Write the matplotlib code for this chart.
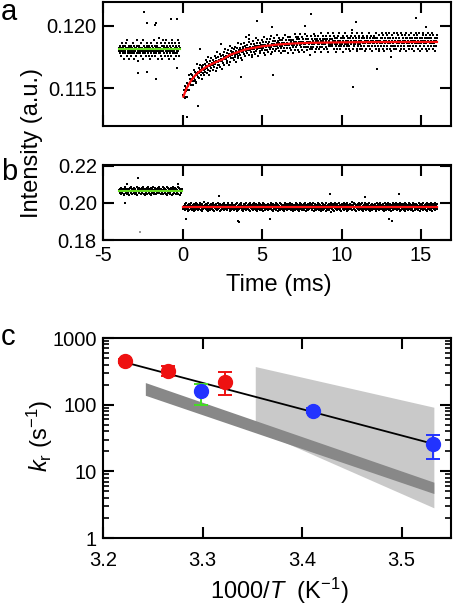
import numpy as np
import matplotlib
matplotlib.use("Agg")
import matplotlib.pyplot as plt

plt.rcParams['font.family'] = ['Liberation Sans', 'DejaVu Sans']
plt.rcParams['mathtext.fontset'] = 'custom'
plt.rcParams['mathtext.rm'] = 'Liberation Sans'
plt.rcParams['mathtext.it'] = 'Liberation Sans:italic'

# ---- panel a : intensity trace with recovery ----
a_pre_level = 0.1181
a_pre_span = (-4.0, -0.17)
a_fit_t = [0.05, 0.25, 0.5, 0.75, 1.0, 1.5, 2.0, 2.5, 3.0, 4.0, 5.0, 6.0, 7.0, 8.0, 10.0, 12.0, 16.0]
a_fit_v = [0.11434, 0.1150, 0.11555, 0.11597, 0.11628, 0.11672, 0.11704, 0.11730, 0.11768,
           0.11812, 0.11835, 0.11850, 0.11858, 0.11863, 0.11867, 0.11869, 0.11870]
a_post_span = (0.05, 16.0)
a_step = 0.00021
# residuals around the fit, read as levels 0..9 (4.5 = on the line)
a_pre_res = ("45364254736514634572853461345265437416354528364053"
             "63452745318465342576435264153746254386423574651394"
             "35472618453627548364251736452847364153726453846275")
a_post_res = ("54637245163548264375462534736251485364275346153642"
              "36457264835146273546425374615283645372546143675248"
              "45362745182463574352647315463825463527416453762549"
              "63547284536142573645283546174536245375462813546372"
              "25463748152634576243584635274613546273548264537146"
              "46375264136548275364725164835472653418463527364520"
              "53746253846172536457426358143675244637526184536734"
              "34658275463142657385426346157364825473564231654789"
              "62453746528134657243562847365142576345382645713645"
              "47365284635172546384627531648527364582463175364825"
              "53628473546152837465243576184635274635826453714658"
              "36475284613546275834652746153826475364827354615376")
a_out_t = [-2.44, -2.25, -1.67, -1.73, -0.73, -0.38, -2.81, -2.25, -1.67, -0.38, 0.31, 0.94,
           1.1, 2.4, 3.65, 4.69, 5.6, 5.7, 8.1, 10.7, 12.2, 13.1, 14.7, 10.9, 15.3, 4.17, 7.7]
a_out_v = [0.12107, 0.12024, 0.12024, 0.12006, 0.12053, 0.12053, 0.11625, 0.1163, 0.11575,
           0.1166, 0.1127, 0.1136, 0.1181, 0.11852, 0.11593, 0.1204, 0.1199, 0.11607, 0.1209,
           0.11509, 0.11652, 0.11753, 0.12059, 0.1203, 0.1199, 0.11926, 0.1200]

# ---- panel b : intensity trace, step down ----
b_pre_level = 0.2065
b_post_level = 0.1978
b_pre_span = (-4.0, -0.05)
b_post_span = (0.05, 16.0)
b_step = 0.00058
b_pre_res = ("54362745364152873546243561478352645375264318465374"
             "46253748526413657284536427153648253746524375683642"
             "63548274536251847365243756142836475263548274613546")
b_post_res = ("35462748536142756348254637152846375246358264175349"
              "64537246185364275436825146375428536471526435784263"
              "45362874516342578364256437184526347586243157463528"
              "53647258146354728635472514636827453624185746253647"
              "27465384625173546382754163548274635246183574625374"
              "46385274613546258374526148367524635728461354276385"
              "54726385146372564835274615384627536415824637526408"
              "36472516485362745836241575463824653718462537465392"
              "65384726154637285463728451638462573546281356427354"
              "46372518463527486354627153846273548264735164283756"
              "35846274536182754637264815374625846372536418573624"
              "74635284615374628354637251846375426385174635284637")
b_out_t = [-2.81, -3.5, -3.6, -0.3, 0.2, 3.54, 3.5, 9.27, 13.6, 13.0, 13.2, 2.3, 5.5, 11.5]
b_out_v = [0.2133, 0.2100, 0.2002, 0.2100, 0.1915, 0.1896, 0.1905, 0.2047, 0.2047, 0.1912,
           0.1905, 0.2036, 0.1915, 0.2031]
b_faint_t = [-2.7]
b_faint_v = [0.1841]

# ---- panel c : Arrhenius plot ----
red_x = [3.222, 3.265, 3.323]
red_y = [452, 322, 221]
red_lo = [425, 270, 140]
red_hi = [485, 385, 305]
blue_x = [3.298, 3.411, 3.532]
blue_y = [162, 81, 25.4]
blue_lo = [99, 74, 15.1]
blue_hi = [202, 89, 35.5]
blue_err_col = ['#44dd22', '#2233ff', '#2233ff']
fit_x = [3.225, 3.53]
fit_y = [420, 26.3]
dark_x = [3.243, 3.533, 3.533, 3.243]
dark_y = [211, 6.76, 4.57, 136]
light_x = [3.3535, 3.533, 3.533, 3.3535]
light_y = [367, 90, 2.79, 42]


def levels(s):
    return np.array([int(c) for c in s]) - 4.5


fig = plt.figure(figsize=(4.54, 6.05), dpi=100)
ax_a = fig.add_axes([0.227, 0.7917, 0.767, 0.205])
ax_b = fig.add_axes([0.227, 0.6033, 0.767, 0.124])
ax_c = fig.add_axes([0.227, 0.1107, 0.767, 0.3306])

dot = dict(ls='none', marker='s', color='k', ms=2.0, mew=0)

# panel a
r = levels(a_pre_res)
t = np.linspace(a_pre_span[0], a_pre_span[1], len(r))
ax_a.plot(t, a_pre_level + r * a_step, **dot)
r = levels(a_post_res)
t = np.linspace(a_post_span[0], a_post_span[1], len(r))
ax_a.plot(t, np.interp(t, a_fit_t, a_fit_v) + r * a_step, **dot)
ax_a.plot(a_out_t, a_out_v, **dot)
ax_a.plot(a_pre_span, [a_pre_level] * 2, color='#66dd22', lw=1.5)
ax_a.plot(a_fit_t, a_fit_v, color='#ff1010', lw=1.6)
ax_a.set_ylim(0.11199, 0.12189)
ax_a.set_yticks([0.115, 0.120])
ax_a.set_yticklabels(['0.115', '0.120'])

# panel b
r = levels(b_pre_res)
t = np.linspace(b_pre_span[0], b_pre_span[1], len(r))
ax_b.plot(t, b_pre_level + r * b_step, **dot)
r = levels(b_post_res)
t = np.linspace(b_post_span[0], b_post_span[1], len(r))
ax_b.plot(t, b_post_level + r * b_step, **dot)
ax_b.plot(b_out_t, b_out_v, **dot)
ax_b.plot(b_faint_t, b_faint_v, ls='none', marker='s', color='#999999', ms=1.5, mew=0)
ax_b.plot(b_pre_span, [b_pre_level] * 2, color='#66dd22', lw=1.5)
ax_b.plot(b_post_span, [b_post_level] * 2, color='#ff1010', lw=1.6)
ax_b.set_ylim(0.18, 0.2205)
ax_b.set_yticks([0.18, 0.20, 0.22])
ax_b.set_yticklabels(['0.18', '0.20', '0.22'])

for ax in (ax_a, ax_b):
    ax.set_xlim(-5, 16.9)
    ax.set_xticks([-5, 0, 5, 10, 15])
ax_a.tick_params(axis='x', labelbottom=False)
ax_b.set_xticklabels(['-5', '0', '5', '10', '15'])

# panel c
ax_c.fill(light_x, light_y, color='#c9c9c9', lw=0, zorder=1)
ax_c.fill(dark_x, dark_y, color='#888888', lw=0, zorder=2)
ax_c.plot(fit_x, fit_y, color='k', lw=1.3, zorder=3)
for x, y, lo, hi in zip(red_x, red_y, red_lo, red_hi):
    ax_c.errorbar(x, y, yerr=[[y - lo], [hi - y]], fmt='o', color='#ee1111', ms=10,
                  elinewidth=1.4, capsize=5, capthick=1.4, zorder=4)
for x, y, lo, hi, ec in zip(blue_x, blue_y, blue_lo, blue_hi, blue_err_col):
    ax_c.errorbar(x, y, yerr=[[y - lo], [hi - y]], fmt='o', color='#2233ff', ecolor=ec,
                  ms=10, elinewidth=1.4, capsize=5, capthick=1.4, zorder=4)
ax_c.set_yscale('log')
ax_c.set_ylim(1, 1000)
ax_c.set_yticks([1, 10, 100, 1000])
ax_c.set_yticklabels(['1', '10', '100', '1000'])
ax_c.set_xlim(3.2, 3.55)
ax_c.set_xticks([3.2, 3.3, 3.4, 3.5])
ax_c.set_xticklabels(['3.2', '3.3', '3.4', '3.5'])
ax_c.minorticks_on()
ax_c.xaxis.set_minor_locator(matplotlib.ticker.NullLocator())

for ax in (ax_a, ax_b, ax_c):
    for sp in ax.spines.values():
        sp.set_linewidth(1.5)
    ax.tick_params(which='major', direction='in', top=True, right=True, length=8,
                   width=1.5, labelsize=14.5, pad=4.5)
    ax.tick_params(which='minor', direction='in', top=True, right=True, length=4,
                   width=1.2)
ax_c.tick_params(axis='x', which='major', pad=9)

# labels
fig.text(0.002, 1 - 19.5 / 605, 'a', fontsize=21, va='baseline')
fig.text(0.002, 1 - 180 / 605, 'b', fontsize=21, va='baseline')
fig.text(0.002, 1 - 345 / 605, 'c', fontsize=21, va='baseline')
fig.text(32 / 454, 1 - 142.5 / 605, 'Intensity (a.u.)', fontsize=17, rotation=90,
         ha='center', va='center')
fig.text(278.7 / 454, 1 - 285 / 605, 'Time (ms)', fontsize=17, ha='center', va='center')
fig.text(40 / 454, 1 - 436 / 605, r'$k_\mathrm{r}$ (s$^{-1}$)', fontsize=17, rotation=90,
         ha='center', va='center')
fig.text(279 / 454, 1 - 591 / 605, r'1000/$T$  (K$^{-1}$)', fontsize=17, ha='center',
         va='center')

fig.savefig('out.png', dpi=100)
